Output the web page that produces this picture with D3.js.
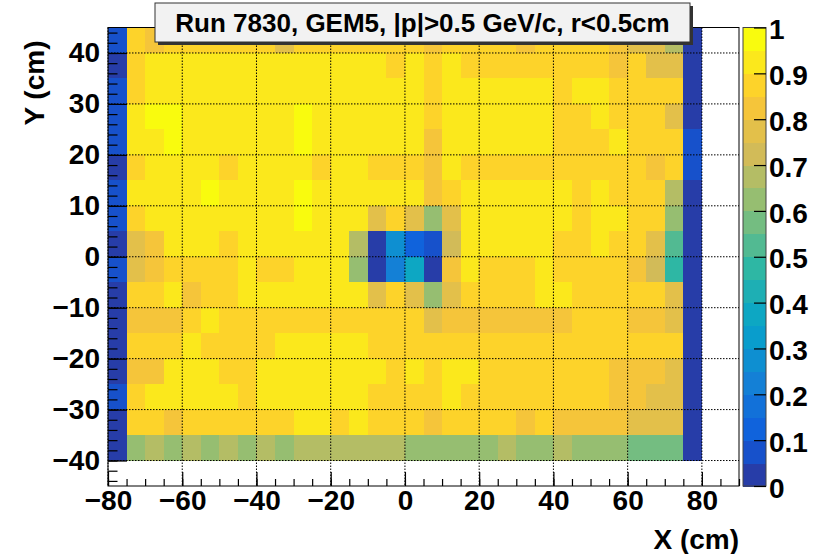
<!DOCTYPE html>
<html>
<head>
<meta charset="utf-8">
<script src="https://cdn.jsdelivr.net/npm/d3@7"></script>
<style>
body { margin: 0; background: #fff; }
svg { display: block; font-family: "Liberation Sans", Arial, sans-serif; font-weight: bold; }
</style>
</head>
<body>
<svg id="chart" width="823" height="554"></svg>
<script>
// bin layout: 5 cm bins, x from -80 to 80, y from -40 to 45
var xLow = d3.range(-80, 80, 5)
var yLow = [40, 35, 30, 25, 20, 15, 10, 5, 0, -5, -10, -15, -20, -25, -30, -35, -40]

var xTicks = [-80, -60, -40, -20, 0, 20, 40, 60, 80]
var yTicks = [-40, -30, -20, -10, 0, 10, 20, 30, 40]
var zTicks = [0, 0.1, 0.2, 0.3, 0.4, 0.5, 0.6, 0.7, 0.8, 0.9, 1]

// efficiency per row, left to right (x = -80 ... 75)
var r40  = [0.07,0.87,0.82,0.87,0.87,0.87,0.87,0.87,0.87,0.77,0.87,0.87,0.87,0.87,0.87,0.87,0.87,0.82,0.87,0.87,0.87,0.87,0.82,0.87,0.87,0.87,0.87,0.82,0.77,0.77,0.67,0.03]
var r35  = [0.03,0.87,0.92,0.92,0.92,0.92,0.92,0.92,0.92,0.92,0.92,0.92,0.92,0.92,0.92,0.87,0.92,0.87,0.92,0.87,0.87,0.87,0.87,0.87,0.87,0.87,0.87,0.82,0.87,0.77,0.77,0.03]
var r30  = [0.07,0.87,0.92,0.92,0.92,0.92,0.92,0.92,0.92,0.92,0.92,0.92,0.92,0.92,0.92,0.92,0.92,0.87,0.92,0.92,0.92,0.92,0.92,0.92,0.87,0.92,0.92,0.87,0.87,0.87,0.87,0.03]
var r25  = [0.07,0.92,0.97,0.97,0.92,0.92,0.92,0.92,0.92,0.92,0.97,0.92,0.92,0.92,0.92,0.92,0.92,0.87,0.92,0.92,0.92,0.92,0.92,0.92,0.87,0.87,0.92,0.87,0.87,0.87,0.77,0.03]
var r20  = [0.07,0.92,0.92,0.97,0.92,0.92,0.92,0.92,0.92,0.92,0.97,0.92,0.92,0.92,0.92,0.92,0.92,0.82,0.92,0.92,0.92,0.92,0.92,0.92,0.87,0.87,0.87,0.93,0.87,0.87,0.87,0.07]
var r15  = [0.03,0.87,0.92,0.92,0.92,0.92,0.87,0.92,0.92,0.92,0.92,0.87,0.92,0.92,0.87,0.87,0.87,0.82,0.92,0.87,0.87,0.87,0.87,0.87,0.87,0.87,0.87,0.87,0.87,0.82,0.87,0.07]
var r10  = [0.07,0.92,0.92,0.92,0.92,0.97,0.92,0.92,0.92,0.92,0.97,0.92,0.92,0.92,0.92,0.92,0.92,0.82,0.87,0.92,0.92,0.92,0.92,0.92,0.92,0.87,0.92,0.87,0.87,0.87,0.67,0.03]
var r5   = [0.07,0.87,0.92,0.92,0.92,0.92,0.92,0.92,0.92,0.92,0.97,0.92,0.92,0.92,0.77,0.87,0.77,0.62,0.77,0.92,0.92,0.92,0.92,0.92,0.92,0.87,0.92,0.92,0.87,0.87,0.62,0.03]
var r0   = [0.03,0.77,0.82,0.92,0.92,0.92,0.87,0.92,0.92,0.92,0.92,0.92,0.92,0.67,0.03,0.27,0.13,0.09,0.72,0.92,0.92,0.92,0.92,0.92,0.87,0.87,0.92,0.87,0.87,0.77,0.53,0.03]
var rm5  = [0.07,0.77,0.82,0.87,0.87,0.87,0.87,0.92,0.87,0.87,0.92,0.92,0.92,0.62,0.03,0.22,0.37,0.03,0.82,0.92,0.87,0.87,0.87,0.92,0.87,0.87,0.87,0.87,0.82,0.72,0.48,0.03]
var rm10 = [0.03,0.87,0.87,0.92,0.82,0.87,0.87,0.92,0.92,0.92,0.92,0.92,0.92,0.92,0.77,0.87,0.77,0.62,0.77,0.87,0.87,0.87,0.87,0.92,0.92,0.87,0.87,0.87,0.87,0.87,0.77,0.03]
var rm15 = [0.03,0.82,0.82,0.82,0.87,0.92,0.87,0.87,0.87,0.87,0.87,0.87,0.87,0.87,0.87,0.87,0.87,0.77,0.82,0.82,0.82,0.82,0.82,0.82,0.82,0.87,0.87,0.87,0.82,0.82,0.77,0.03]
var rm20 = [0.03,0.87,0.87,0.87,0.92,0.87,0.87,0.87,0.87,0.92,0.92,0.92,0.92,0.92,0.87,0.87,0.87,0.87,0.87,0.87,0.87,0.87,0.87,0.87,0.87,0.87,0.87,0.87,0.87,0.87,0.87,0.03]
var rm25 = [0.03,0.82,0.82,0.92,0.92,0.92,0.87,0.87,0.92,0.92,0.92,0.92,0.92,0.92,0.92,0.87,0.92,0.87,0.92,0.92,0.87,0.87,0.87,0.87,0.87,0.87,0.87,0.82,0.82,0.82,0.77,0.03]
var rm30 = [0.07,0.87,0.92,0.92,0.92,0.92,0.92,0.87,0.92,0.92,0.92,0.92,0.92,0.92,0.87,0.87,0.87,0.87,0.92,0.87,0.87,0.87,0.87,0.87,0.87,0.87,0.87,0.82,0.82,0.77,0.77,0.03]
var rm35 = [0.03,0.87,0.87,0.82,0.87,0.87,0.87,0.87,0.87,0.87,0.92,0.92,0.87,0.92,0.87,0.87,0.87,0.82,0.87,0.87,0.87,0.87,0.82,0.87,0.82,0.82,0.82,0.82,0.77,0.77,0.77,0.03]
var rm40 = [0.03,0.62,0.67,0.62,0.67,0.62,0.67,0.62,0.67,0.62,0.67,0.67,0.67,0.67,0.67,0.67,0.62,0.62,0.62,0.62,0.62,0.67,0.62,0.62,0.67,0.62,0.62,0.62,0.57,0.57,0.57,0.03]

var rows = [r40, r35, r30, r25, r20, r15, r10, r5, r0, rm5, rm10, rm15, rm20, rm25, rm30, rm35, rm40]

// ROOT kBird palette
var birdStops = [0.0, 0.125, 0.25, 0.375, 0.5, 0.625, 0.75, 0.875, 1.0]
var birdR = [0.2082, 0.0592, 0.0780, 0.0232, 0.1802, 0.5301, 0.8186, 0.9956, 0.9764]
var birdG = [0.1664, 0.3599, 0.5041, 0.6419, 0.7178, 0.7492, 0.7328, 0.7862, 0.9832]
var birdB = [0.5293, 0.8684, 0.8385, 0.7914, 0.6425, 0.4662, 0.3499, 0.1968, 0.0539]

var nContours = 20
var nColors = 255

var bird = d3.scaleLinear()
	.domain(birdStops)
	.range(birdStops.map(function(s, i) {
		return d3.rgb(birdR[i]*255, birdG[i]*255, birdB[i]*255).toString()
	}))

// same mapping ROOT uses: contour band -> palette index
var bandColor = function(v) {
	var band = Math.max(0, Math.min(nContours - 1, Math.floor(v * nContours)))
	var idx = Math.floor((band + 0.99) * nColors / nContours)
	return bird(idx / (nColors - 1))
}

var pLeft = 108, pRight = 739, pTop = 27.5, pBottom = 486
var barLeft = 743, barRight = 766

var x = d3.scaleLinear().domain([-80, 90]).range([pLeft, pRight])
var y = d3.scaleLinear().domain([-45, 45]).range([pBottom, pTop])
var z = d3.scaleLinear().domain([0, 1]).range([pBottom, pTop])

var svg = d3.select("#chart")

// cells
var cells = []
rows.forEach(function(row, r) {
	row.forEach(function(v, c) {
		cells.push({x0: xLow[c], y0: yLow[r], v: v})
	})
})

svg.append("g")
	.attr("shape-rendering", "crispEdges")
	.selectAll("rect")
	.data(cells)
	.enter()
	.append("rect")
	.attr("x", function(d) { return x(d.x0) })
	.attr("y", function(d) { return y(d.y0 + 5) })
	.attr("width", function(d) { return x(d.x0 + 5) - x(d.x0) + 0.5 })
	.attr("height", function(d) { return y(d.y0) - y(d.y0 + 5) + 0.5 })
	.attr("fill", function(d) { return bandColor(d.v) })

// dotted grid
var grid = svg.append("g")
	.attr("stroke", "#000")
	.attr("stroke-width", 1)
	.attr("stroke-dasharray", "1.5,1.5")

grid.selectAll(".vg")
	.data(xTicks)
	.enter()
	.append("line")
	.attr("x1", function(d) { return x(d) })
	.attr("x2", function(d) { return x(d) })
	.attr("y1", pTop)
	.attr("y2", pBottom)

grid.selectAll(".hg")
	.data(yTicks)
	.enter()
	.append("line")
	.attr("x1", pLeft)
	.attr("x2", pRight)
	.attr("y1", function(d) { return y(d) })
	.attr("y2", function(d) { return y(d) })

// axes, ticks inside the frame like ROOT
var fmt = d3.format("")

var xMinor = svg.append("g")
	.attr("transform", "translate(0," + pBottom + ")")
	.call(d3.axisBottom(x).tickValues(d3.range(-80, 91, 5)).tickSize(-7).tickFormat(""))
var xAxis = svg.append("g")
	.attr("transform", "translate(0," + pBottom + ")")
	.call(d3.axisBottom(x).tickValues(xTicks).tickSize(-14).tickPadding(4).tickFormat(fmt))

var yMinor = svg.append("g")
	.attr("transform", "translate(" + pLeft + ",0)")
	.call(d3.axisLeft(y).tickValues(d3.range(-44, 45, 2)).tickSize(-9.5).tickFormat(""))
var yAxis = svg.append("g")
	.attr("transform", "translate(" + pLeft + ",0)")
	.call(d3.axisLeft(y).tickValues(yTicks).tickSize(-19).tickPadding(8).tickFormat(fmt))

svg.selectAll(".domain").remove()
svg.selectAll(".tick line").attr("stroke", "#000").attr("stroke-width", 1.2)
svg.selectAll(".tick text")
	.attr("fill", "#000")
	.attr("font-size", 28)
	.attr("font-family", "Liberation Sans, Arial, sans-serif")
	.attr("font-weight", "bold")

// frame
svg.append("rect")
	.attr("x", pLeft)
	.attr("y", pTop)
	.attr("width", pRight - pLeft)
	.attr("height", pBottom - pTop)
	.attr("fill", "none")
	.attr("stroke", "#000")
	.attr("stroke-width", 1)

// palette
var bands = d3.range(nContours)
svg.append("g")
	.attr("shape-rendering", "crispEdges")
	.selectAll("rect")
	.data(bands)
	.enter()
	.append("rect")
	.attr("x", barLeft)
	.attr("width", barRight - barLeft)
	.attr("y", function(d) { return z((d + 1) / nContours) })
	.attr("height", function(d) { return z(d / nContours) - z((d + 1) / nContours) + 0.5 })
	.attr("fill", function(d) { return bandColor((d + 0.5) / nContours) })

svg.append("rect")
	.attr("x", barLeft)
	.attr("y", pTop)
	.attr("width", barRight - barLeft)
	.attr("height", pBottom - pTop)
	.attr("fill", "none")
	.attr("stroke", "#444")
	.attr("stroke-width", 1)

var zAxis = svg.append("g")
	.attr("transform", "translate(" + barRight + ",0)")
	.call(d3.axisRight(z).tickValues(zTicks).tickSize(-12).tickPadding(3)
		.tickFormat(function(d) { return +d.toFixed(1) + "" }))
zAxis.select(".domain").remove()
zAxis.selectAll(".tick line").attr("stroke", "#000").attr("stroke-width", 1.2)
zAxis.selectAll(".tick text")
	.attr("fill", "#000")
	.attr("font-size", 28)
	.attr("font-family", "Liberation Sans, Arial, sans-serif")
	.attr("font-weight", "bold")
	.attr("dy", "0.4em")

// axis titles
svg.append("text")
	.text("X (cm)")
	.attr("x", pRight)
	.attr("y", 549)
	.attr("text-anchor", "end")
	.attr("font-size", 28)
	.attr("fill", "#000")

svg.append("text")
	.text("Y (cm)")
	.attr("transform", "translate(44," + (pTop + 13) + ") rotate(-90)")
	.attr("text-anchor", "end")
	.attr("font-size", 28)
	.attr("fill", "#000")

// title pave with shadow
var tx = 155, ty = 3, tw = 535, th = 39
svg.append("rect")
	.attr("x", tx + 3)
	.attr("y", ty + 3)
	.attr("width", tw)
	.attr("height", th)
	.attr("fill", "#333")
svg.append("rect")
	.attr("x", tx)
	.attr("y", ty)
	.attr("width", tw)
	.attr("height", th)
	.attr("fill", "#f2f2f2")
	.attr("stroke", "#333")
	.attr("stroke-width", 1)
svg.append("text")
	.text("Run 7830, GEM5, |p|>0.5 GeV/c, r<0.5cm")
	.attr("x", tx + tw / 2)
	.attr("y", ty + th / 2)
	.attr("dy", "0.36em")
	.attr("text-anchor", "middle")
	.attr("font-size", 26)
	.attr("fill", "#000")
</script>
</body>
</html>
